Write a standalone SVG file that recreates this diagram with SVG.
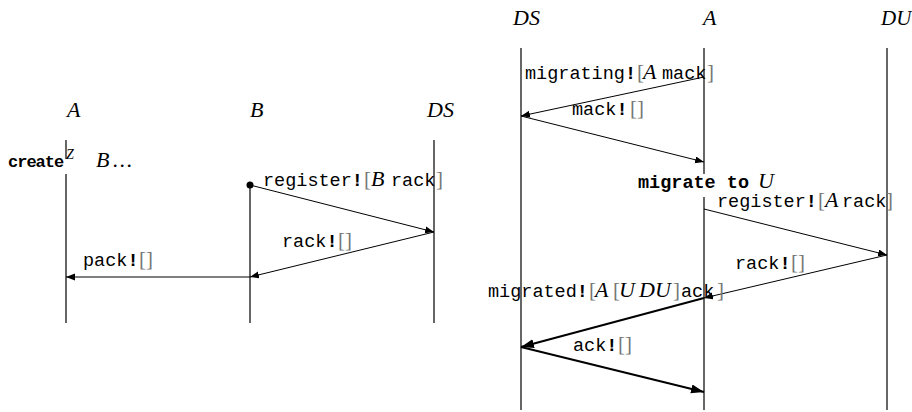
<svg xmlns="http://www.w3.org/2000/svg" width="912" height="412" viewBox="0 0 912 412">
<style>
text{font-family:"Liberation Mono","DejaVu Sans Mono",monospace;font-size:18.5px;fill:#000}
.b{font-weight:bold}
.mi{font-family:"Liberation Serif","DejaVu Serif",serif;font-style:italic;font-size:22px}
.br{font-family:"Liberation Serif","DejaVu Serif",serif;font-size:21px;fill:#777}
.life{stroke:#000;stroke-width:1.2;fill:none}
.msg{stroke:#000;stroke-width:1;fill:none;marker-end:url(#ah)}
.thick{stroke:#000;stroke-width:2;fill:none;marker-end:url(#ahb)}
</style>
<defs>
<marker id="ah" markerUnits="userSpaceOnUse" markerWidth="10" markerHeight="8" refX="9" refY="3.5" orient="auto"><path d="M0,0 L9,3.5 L0,7 z" fill="#000"/></marker>
<marker id="ahb" markerUnits="userSpaceOnUse" markerWidth="14" markerHeight="10" refX="13" refY="4.5" orient="auto"><path d="M0,0 L13,4.5 L0,9 z" fill="#000"/></marker>
</defs>
<rect width="912" height="412" fill="#fff"/>

<g id="left-A">
<text class="mi" x="67" y="117">A</text>
<line class="life" x1="66" y1="140" x2="66" y2="159"/>
<line class="life" x1="66" y1="174" x2="66" y2="323"/>
<text x="8" y="167"><tspan class="b" style="font-size:17px;letter-spacing:-1px">create</tspan><tspan class="mi" x="66" y="159" style="font-size:14px">Z</tspan><tspan class="mi" x="96" y="167">B</tspan><tspan class="mi" x="113" y="167" style="letter-spacing:1.5px">...</tspan></text>
</g>
<g id="left-B">
<text class="mi" x="250" y="117">B</text>
<line class="life" x1="250" y1="185" x2="250" y2="323"/>
<circle cx="250" cy="185" r="3.5" fill="#000"/>
</g>
<g id="left-DS">
<text class="mi" x="427" y="117">DS</text>
<line class="life" x1="434" y1="140" x2="434" y2="323"/>
</g>

<g id="right-DS">
<text class="mi" x="513" y="25">DS</text>
<line class="life" x1="521" y1="48" x2="521" y2="410"/>
</g>
<g id="right-A">
<text class="mi" x="703" y="25">A</text>
<line class="life" x1="704" y1="48" x2="704" y2="174"/>
<line class="life" x1="704" y1="197" x2="704" y2="410"/>
<text x="638" y="188"><tspan class="b">migrate to</tspan><tspan class="mi" x="758">U</tspan></text>
</g>
<g id="right-DU">
<text class="mi" x="881" y="25" style="font-size:21px">DU</text>
<line class="life" x1="887" y1="48" x2="887" y2="410"/>
</g>

<g id="connectors">
<path class="msg" d="M250,185 L434,232"/>
<path class="msg" d="M434,232 L250,277"/>
<path class="msg" d="M250,277 L66,277"/>
<path class="msg" d="M704,77 L521,116"/>
<path class="msg" d="M521,116 L704,162"/>
<path class="msg" d="M704,209 L887,255"/>
<path class="msg" d="M887,255 L704,298"/>
<path class="thick" d="M704,298 L521,347"/>
<path class="thick" d="M521,347 L704,392"/>

<text x="263" y="186">register<tspan class="b">!</tspan><tspan class="br" x="364">[</tspan><tspan class="mi" x="371">B</tspan><tspan x="391">rack</tspan><tspan class="br" x="436">]</tspan></text>
<text x="282" y="247">rack<tspan class="b">!</tspan><tspan class="br" x="338">[]</tspan></text>
<text x="83" y="266">pack<tspan class="b">!</tspan><tspan class="br" x="139">[]</tspan></text>

<text x="525" y="79">migrating<tspan class="b">!</tspan><tspan class="br" x="637">[</tspan><tspan class="mi" x="643">A</tspan><tspan x="662">mack</tspan><tspan class="br" x="707">]</tspan></text>
<text x="572" y="115">mack<tspan class="b">!</tspan><tspan class="br" x="630">[]</tspan></text>
<text x="717" y="207">register<tspan class="b">!</tspan><tspan class="br" x="818">[</tspan><tspan class="mi" x="825">A</tspan><tspan x="842">rack</tspan><tspan class="br" x="886">]</tspan></text>
<text x="735" y="269">rack<tspan class="b">!</tspan><tspan class="br" x="791">[]</tspan></text>
<text x="488" y="297">migrated<tspan class="b">!</tspan><tspan class="br" x="589">[</tspan><tspan class="mi" x="595">A</tspan><tspan class="br" x="613">[</tspan><tspan class="mi" x="619">U</tspan><tspan class="mi" x="639">DU</tspan><tspan class="br" x="673">]</tspan><tspan x="681">ack</tspan><tspan class="br" x="717">]</tspan></text>
<text x="573" y="351">ack<tspan class="b">!</tspan><tspan class="br" x="618">[]</tspan></text>
</g>
</svg>
